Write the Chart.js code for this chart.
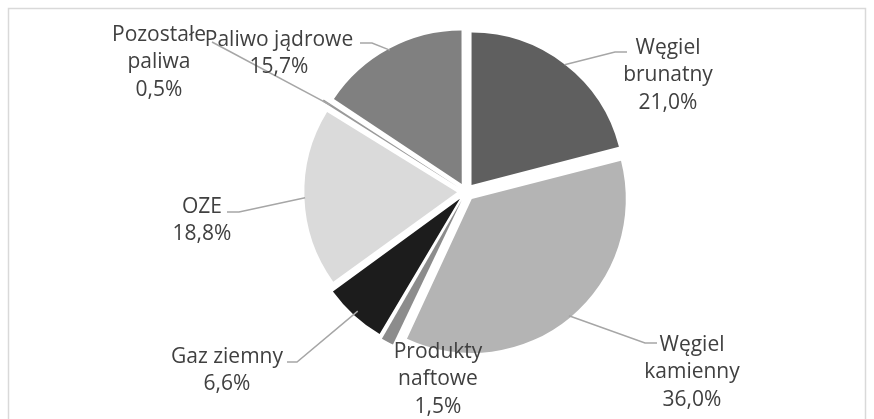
<!DOCTYPE html>
<html>
<head>
<meta charset="utf-8">
<script src="https://cdn.jsdelivr.net/npm/chart.js@4.4.1/dist/chart.umd.min.js"></script>
<style>
  html, body { margin: 0; padding: 0; background: #ffffff; }
  #wrap { width: 874px; height: 419px; position: relative; }
</style>
</head>
<body>
<div id="wrap"><canvas id="c" width="874" height="419"></canvas></div>
<script>
// Struktura zużycia paliw (udział procentowy)
const categories = ['Węgiel brunatny', 'Węgiel kamienny', 'Produkty naftowe', 'Gaz ziemny', 'OZE', 'Pozostałe paliwa', 'Paliwo jądrowe'];
const shares = [21.0, 36.0, 1.5, 6.6, 18.8, 0.5, 15.7];
const labelLines = [
  ['Węgiel', 'brunatny'],
  ['Węgiel', 'kamienny'],
  ['Produkty', 'naftowe'],
  ['Gaz ziemny'],
  ['OZE'],
  ['Pozostałe', 'paliwa'],
  ['Paliwo jądrowe']
];
const sliceColors = ['#5f5f5f', '#b4b4b4', '#8c8c8c', '#1c1c1c', '#dadada', '#9a9a9a', '#808080'];

// Label placement: text centre x, centre y of the first line,
// and the leader path from the text towards the slice edge.
const calloutLayout = [
  { x: 668, y: 48,  leader: [[627, 52], [615, 52]] },
  { x: 692, y: 345, leader: [[657, 343], [645, 343]] },
  { x: 438, y: 352, leader: null },
  { x: 227, y: 357, leader: [[287, 362], [297, 362]] },
  { x: 202, y: 207, leader: [[227, 212], [239, 212]] },
  { x: 159, y: 35,  leader: [[212, 42]] },
  { x: 279, y: 40,  leader: [[360, 43], [372, 43]] }
];

const fmtPct = v => v.toFixed(1).replace('.', ',') + '%';

const frame = {
  id: 'frame',
  beforeDraw(chart) {
    const c = chart.ctx;
    c.save();
    c.fillStyle = '#ffffff';
    c.fillRect(0, 0, chart.width, chart.height);
    c.strokeStyle = '#d9d9d9';
    c.lineWidth = 1.5;
    c.strokeRect(8.5, 8.5, 857, 440);
    c.restore();
  }
};

const calloutLabels = {
  id: 'calloutLabels',
  afterDatasetsDraw(chart) {
    const c = chart.ctx;
    const meta = chart.getDatasetMeta(0);
    c.save();
    meta.data.forEach((arc, i) => {
      const p = arc.getProps(['x', 'y', 'startAngle', 'endAngle', 'outerRadius'], true);
      const shift = (arc.options.offset || 0) / 4;
      const mid = (p.startAngle + p.endAngle) / 2;
      const edge = [p.x + Math.cos(mid) * (p.outerRadius + shift),
                    p.y + Math.sin(mid) * (p.outerRadius + shift)];
      const lay = calloutLayout[i];
      if (lay.leader) {
        c.strokeStyle = '#a6a6a6';
        c.lineWidth = 1.5;
        c.beginPath();
        c.moveTo(lay.leader[0][0], lay.leader[0][1]);
        for (let k = 1; k < lay.leader.length; k++) c.lineTo(lay.leader[k][0], lay.leader[k][1]);
        c.lineTo(edge[0], edge[1]);
        c.stroke();
      }
      const lines = labelLines[i].concat([fmtPct(shares[i])]);
      c.fillStyle = '#404040';
      c.font = '21px "Open Sans", sans-serif';
      c.textAlign = 'center';
      c.textBaseline = 'middle';
      lines.forEach((t, k) => c.fillText(t, lay.x, lay.y + k * 27.5));
    });
    c.restore();
  }
};

new Chart(document.getElementById('c'), {
  type: 'pie',
  data: {
    labels: categories,
    datasets: [{
      data: shares,
      backgroundColor: sliceColors,
      borderWidth: 0,
      offset: 36
    }]
  },
  options: {
    responsive: false,
    animation: false,
    events: [],
    radius: 152,
    layout: { padding: { left: 58, right: 0, top: 0, bottom: 35 } },
    plugins: {
      legend: { display: false },
      tooltip: { enabled: false }
    }
  },
  plugins: [frame, calloutLabels]
});
</script>
</body>
</html>
